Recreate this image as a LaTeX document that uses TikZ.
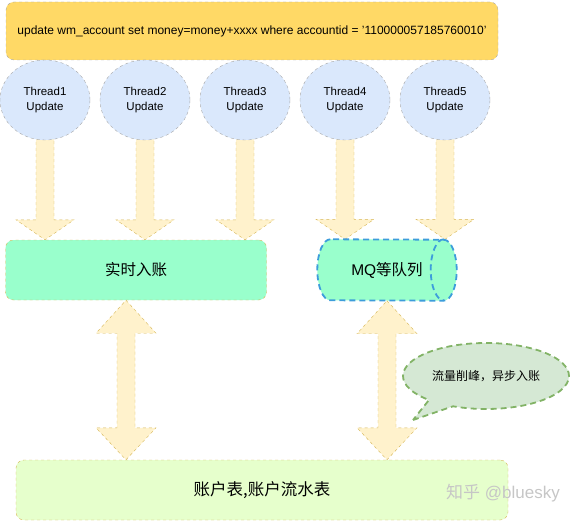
\documentclass[tikz,border=0pt]{standalone}
\usepackage{fontspec}
\setmainfont{Liberation Sans}
\newfontfamily\cjk{Noto Sans CJK SC}
\usetikzlibrary{calc,backgrounds,shapes.geometric,shapes.callouts}

\definecolor{sqlfill}{HTML}{FFD966}
\definecolor{threadfill}{HTML}{DAE8FC}
\definecolor{arrfill}{HTML}{FFF2CC}
\definecolor{arrline}{HTML}{D6B656}
\definecolor{realfill}{HTML}{99FFCC}
\definecolor{mqline}{HTML}{3D9DDB}
\definecolor{tablefill}{HTML}{E6FFCC}
\definecolor{notefill}{HTML}{D5E8D4}
\definecolor{noteline}{HTML}{82B366}

% block arrow from a thread down onto a box
\newcommand{\pushdown}[2]{%
  \coordinate (s) at (#1.center);
  \coordinate (e) at (#1.south |- #2.north);
  \draw[bigarrow] ($(s)+(-9,0)$) -- ($(e)+(-9,-20)$) -- ($(e)+(-29,-20)$) -- (e)
    -- ($(e)+(29,-20)$) -- ($(e)+(9,-20)$) -- ($(s)+(9,0)$) -- cycle;}

% two-headed block arrow at x=#1 between two boxes
\newcommand{\twoway}[3]{%
  \coordinate (u) at (#1,0 |- #2.south);
  \coordinate (l) at (#1,0 |- #3.north);
  \draw[bigarrow] (u) -- ($(u)+(30,33)$) -- ($(u)+(9,33)$) -- ($(l)+(9,-32)$)
    -- ($(l)+(30,-32)$) -- (l) -- ($(l)+(-30,-32)$) -- ($(l)+(-9,-32)$)
    -- ($(u)+(-9,33)$) -- ($(u)+(-30,33)$) -- cycle;}

\begin{document}
\begin{tikzpicture}[
  x=1pt, y=-1pt,
  dashy/.style={dash pattern=on 3pt off 3pt},
  sqlbox/.style={draw=gray!70, dashy, fill=sqlfill, rounded corners=8pt,
    minimum width=492pt, minimum height=58pt, font=\fontsize{12}{14}\selectfont},
  thread/.style={ellipse, draw=gray!70, dashy, fill=threadfill, minimum width=90pt,
    minimum height=80pt, inner sep=0pt, align=center, font=\fontsize{11.5}{15}\selectfont},
  bigarrow/.style={draw=arrline, dashy, fill=arrfill},
  realbox/.style={draw=arrline, dashy, fill=realfill, rounded corners=8pt,
    minimum width=261pt, minimum height=60pt, font=\fontsize{15.5}{18}\selectfont\cjk},
  mq/.style={minimum width=139pt, minimum height=61pt, inner sep=0pt,
    font=\fontsize{15.5}{18}\selectfont},
  pipe/.style={draw=mqline, line width=1.8pt, dash pattern=on 6pt off 4pt, fill=realfill},
  tablebox/.style={draw=arrline, dashy, fill=tablefill, rounded corners=8pt,
    minimum width=492pt, minimum height=60pt, font=\fontsize{16.5}{20}\selectfont\cjk},
  note/.style={ellipse callout, draw=noteline, line width=1.8pt, dash pattern=on 6pt off 4pt,
    fill=notefill, minimum width=166pt, minimum height=66pt, inner sep=0pt,
    callout pointer arc=20, font=\fontsize{12}{14}\selectfont\cjk},
  wmark/.style={text=gray!45, font=\fontsize{17}{20}\selectfont}
]
  \useasboundingbox (0,0) rectangle (577,521);

  \node[sqlbox] (sql) at (252,31)
    {update wm\_account set money=money+xxxx where accountid = '110000057185760010'};

  \node[thread] (t1) at (45,100)  {Thread1\\Update};
  \node[thread] (t2) at (145,100) {Thread2\\Update};
  \node[thread] (t3) at (245,100) {Thread3\\Update};
  \node[thread] (t4) at (345,100) {Thread4\\Update};
  \node[thread] (t5) at (445,100) {Thread5\\Update};

  \node[realbox] (real) at (136,270) {实时入账};
  \node[mq] (queue) at (387,270) {MQ{\cjk 等队列}};
  \node[tablebox] (tables) at (262,490) {账户表,账户流水表};

  \node[note, callout absolute pointer={(413,420)}] (peak) at (486,376) {流量削峰，异步入账};

  \node[wmark] (zhihu) at (503,493) {{\cjk 知乎} @bluesky};

  \begin{pgfonlayer}{background}
    \pushdown{t1}{real}
    \pushdown{t2}{real}
    \pushdown{t3}{real}
    \pushdown{t4}{queue}
    \pushdown{t5}{queue}
    % the queue drawn as a lying cylinder
    \draw[pipe] ($(queue.north west)+(13,0)$)
      arc[start angle=-90, end angle=-270, x radius=13, y radius=30.5]
      -- ($(queue.south east)+(-13,0)$)
      arc[start angle=90, end angle=-90, x radius=13, y radius=30.5] -- cycle;
    \draw[pipe, fill=none] ($(queue.north east)+(-13,0)$)
      arc[start angle=-90, end angle=-270, x radius=13, y radius=30.5];
  \end{pgfonlayer}
  \twoway{126}{real}{tables}
  \twoway{387}{queue}{tables}
\end{tikzpicture}
\end{document}
